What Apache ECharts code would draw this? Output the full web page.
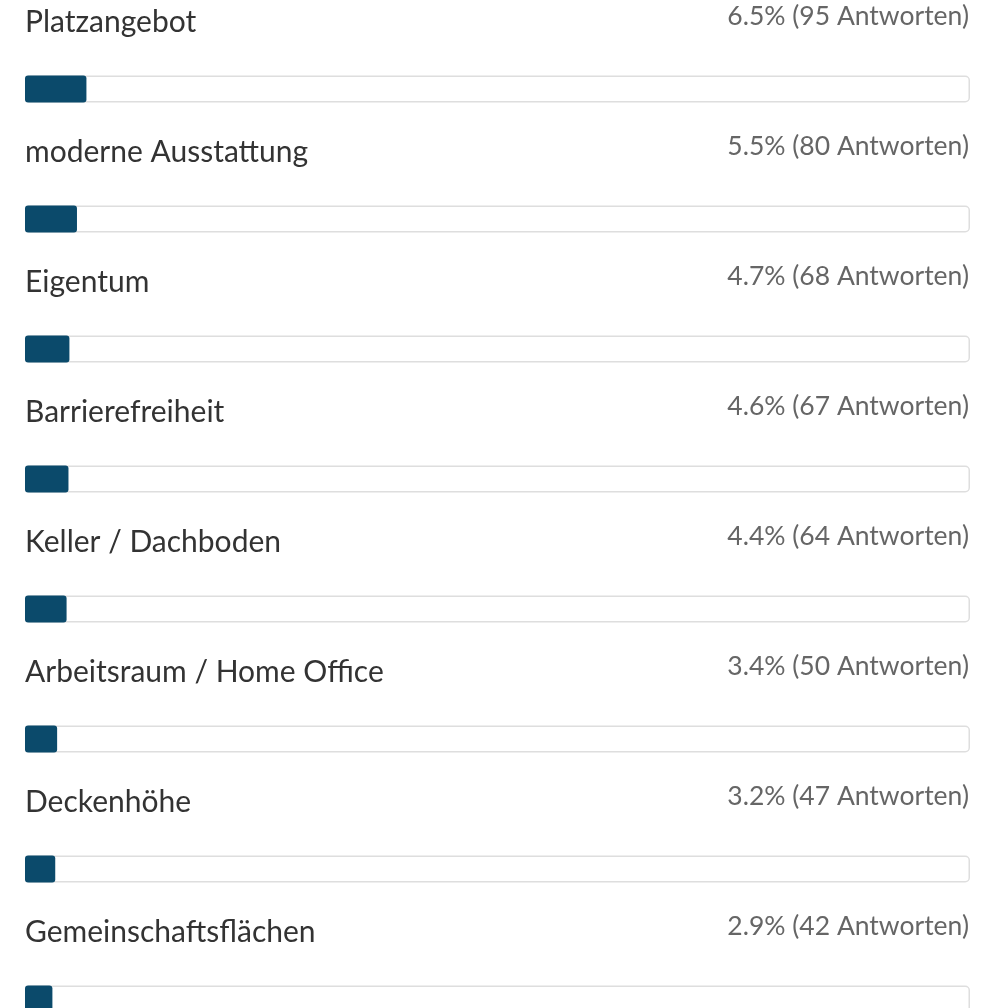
<!DOCTYPE html>
<html>
<head>
<meta charset="utf-8">
<script src="https://cdn.jsdelivr.net/npm/echarts@6/dist/echarts.min.js"></script>
<style>
  html, body { margin: 0; padding: 0; background: #fff; }
  #chart { width: 989px; height: 1008px; }
</style>
</head>
<body>
<div id="chart"></div>
<script>
const categories = [
  'Platzangebot',
  'moderne Ausstattung',
  'Eigentum',
  'Barrierefreiheit',
  'Keller / Dachboden',
  'Arbeitsraum / Home Office',
  'Deckenhöhe',
  'Gemeinschaftsflächen'
]
const percents = [6.5, 5.5, 4.7, 4.6, 4.4, 3.4, 3.2, 2.9]
const counts = [95, 80, 68, 67, 64, 50, 47, 42]
const scaleMax = 100

const chart = echarts.init(document.getElementById('chart'))

const option = {
  animation: false,
  grid: {
    left: 25,
    right: 19,
    top: 24,
    bottom: -56,
    outerBoundsMode: 'none'
  },
  xAxis: {
    type: 'value',
    min: 0,
    max: scaleMax,
    show: false
  },
  yAxis: {
    type: 'category',
    data: categories,
    inverse: true,
    show: false
  },
  series: [
    {
      // Hintergrundbalken (Spur)
      type: 'bar',
      data: categories.map(() => scaleMax),
      barWidth: 27,
      silent: true,
      itemStyle: {
        color: '#fff',
        borderColor: '#dedede',
        borderWidth: 1.5,
        borderRadius: 4
      },
      label: {
        show: true,
        position: 'insideRight',
        distance: 1,
        offset: [0, -73],
        fontFamily: 'Lato',
        fontSize: 26.5,
        color: '#666',
        formatter: p => percents[p.dataIndex] + '% (' + counts[p.dataIndex] + ' Antworten)'
      }
    },
    {
      type: 'bar',
      data: percents,
      barWidth: 27,
      barGap: '-100%',
      itemStyle: {
        color: '#0b4a6b',
        borderRadius: 3
      },
      label: {
        show: true,
        position: 'insideLeft',
        distance: 0,
        offset: [0, -67],
        fontFamily: 'Lato',
        fontSize: 30,
        color: '#333',
        formatter: p => categories[p.dataIndex]
      }
    }
  ]
}

chart.setOption(option)
</script>
</body>
</html>
